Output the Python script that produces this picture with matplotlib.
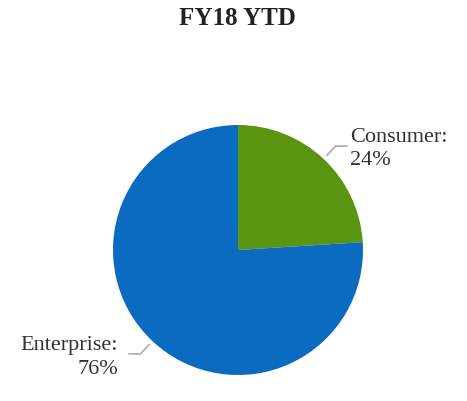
import numpy as np
import matplotlib
matplotlib.use("Agg")
import matplotlib.pyplot as plt

labels = ["Consumer", "Enterprise"]
shares = [24, 76]
colors = ["#5b9411", "#0a6bc1"]

plt.rcParams["font.family"] = ["Liberation Serif", "DejaVu Serif"]

fig = plt.figure(figsize=(4.67, 4.01), dpi=100)
ax = fig.add_axes([0, 0, 1, 1])

wedges, _ = ax.pie(shares, colors=colors, startangle=90, counterclock=False,
                   radius=1.0, center=(0, 0), frame=True,
                   wedgeprops=dict(linewidth=0))
# pixel -> data: x=(px-238)/125, y=(250-py)/125
ax.set_xlim(-238 / 125, (467 - 238) / 125)
ax.set_ylim(-(401 - 250) / 125, 250 / 125)
ax.set_aspect("auto")
ax.axis("off")

# leader lines + labels
text_pos = {"Consumer": (0.896, 0.81, "left"), "Enterprise": (-0.96, -0.86, "right")}
for w, lab, s in zip(wedges, labels, shares):
    ang = np.deg2rad((w.theta1 + w.theta2) / 2)
    c, sn = np.cos(ang), np.sin(ang)
    x0, y0 = 1.04 * c, 1.04 * sn
    x1, y1 = 1.14 * c, 1.14 * sn
    x2 = x1 + np.sign(c) * 0.09
    ax.plot([x0, x1, x2], [y0, y1, y1], color="#b0b0b0", lw=1.3)
    tx, ty, ha = text_pos[lab]
    ax.text(tx, ty, f"{lab}:\n{s}%", ha=ha, va="center", fontsize=16,
            color="#333333", multialignment=ha, linespacing=1.3)

fig.text(0.508, 0.953, "FY18 YTD", ha="center", va="center", fontsize=18,
         fontweight="bold", color="#222222")

fig.savefig("out.png", dpi=100)
